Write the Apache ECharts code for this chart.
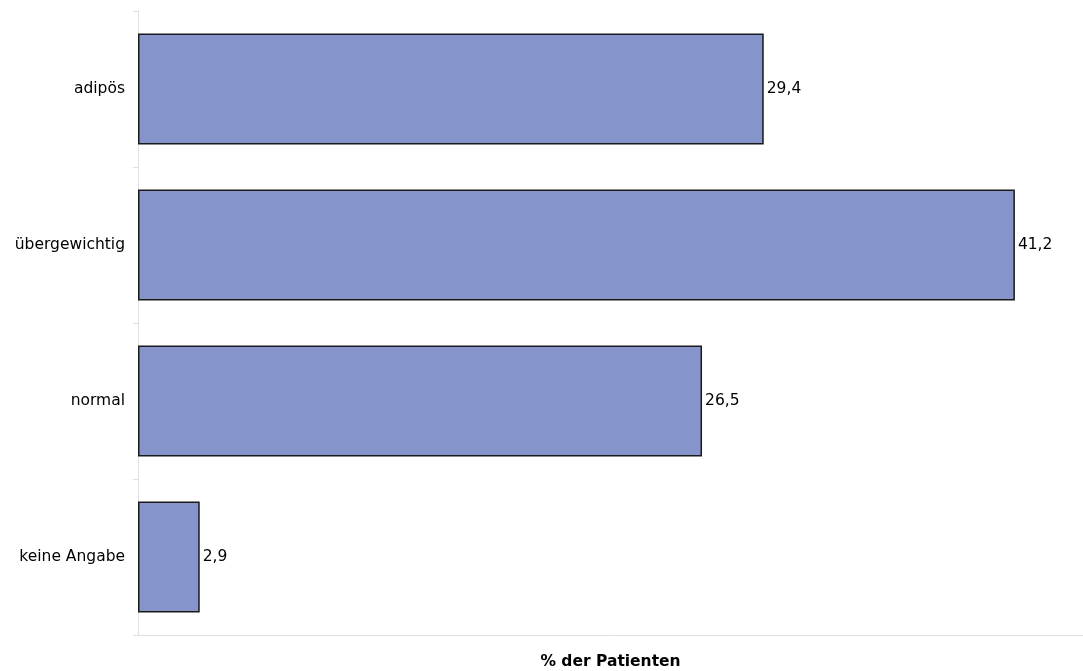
<!DOCTYPE html>
<html><head><meta charset="utf-8">
<script src="https://cdn.jsdelivr.net/npm/echarts@6/dist/echarts.min.js"></script>
<style>html,body{margin:0;padding:0;background:#fff}#c{width:1083px;height:671px}</style>
</head><body><div id="c"></div>
<script>
const categories = ['keine Angabe', 'normal', 'übergewichtig', 'adipös'];
const values = [2.9, 26.5, 41.2, 29.4];
const axisTitle = '% der Patienten';

const chart = echarts.init(document.getElementById('c'));
chart.setOption({
  animation: false,
  textStyle: { fontFamily: 'DejaVu Sans' },
  grid: { left: 138, right: 0, top: 11, bottom: 36, containLabel: false, outerBoundsMode: 'none' },
  xAxis: {
    type: 'value', min: 0, max: 44.4,
    name: axisTitle, nameLocation: 'middle', nameGap: 19,
    nameTextStyle: { fontWeight: 'bold', fontSize: 15.5, color: '#000', fontFamily: 'DejaVu Sans' },
    axisLabel: { show: false }, axisTick: { show: false }, splitLine: { show: false },
    axisLine: { show: true, lineStyle: { color: '#e0e0e0', width: 1 } }
  },
  yAxis: {
    type: 'category', data: categories,
    axisLine: { show: true, lineStyle: { color: '#e0e0e0', width: 1 } },
    axisTick: { show: true, length: 5, lineStyle: { color: '#e0e0e0' } },
    axisLabel: { color: '#000', fontSize: 15.5, margin: 13, fontFamily: 'DejaVu Sans' },
    splitLine: { show: false }
  },
  series: [{
    type: 'bar', data: values, barWidth: '71%',
    itemStyle: { color: '#8595CB', borderColor: '#1a1a1a', borderWidth: 1.5 },
    label: { show: true, position: 'right', distance: 3, color: '#000', fontSize: 15.5,
      fontFamily: 'DejaVu Sans',
      formatter: p => String(p.value).replace('.', ',') }
  }]
});
</script></body></html>
